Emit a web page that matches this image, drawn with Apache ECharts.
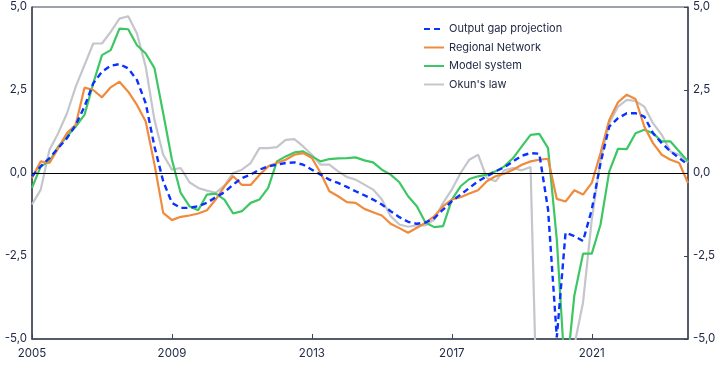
<!DOCTYPE html>
<html>
<head>
<meta charset="utf-8">
<script src="https://cdn.jsdelivr.net/npm/echarts@6/dist/echarts.min.js"></script>
<style>
html,body{margin:0;padding:0;background:#fff;}
#chart{width:722px;height:366px;}
</style>
</head>
<body>
<div id="chart"></div>
<script>
// Quarterly categories 2005Q1 .. 2023Q4
const years = [2005,2006,2007,2008,2009,2010,2011,2012,2013,2014,2015,2016,2017,2018,2019,2020,2021,2022,2023];
const quarters = [];
years.forEach(y => { for (let q = 1; q <= 4; q++) quarters.push(y + 'Q' + q); });

const seriesNames = ['Output gap projection', 'Regional Network', 'Model system', "Okun's law"];

const outputGap = [
  -0.1, 0.2, 0.45, 0.75, 1.05, 1.45, 2.0, 2.7, 3.05, 3.23, 3.28, 3.15, 2.8, 2.1, 0.8, -0.25,
  -0.9, -1.05, -1.05, -1.0, -0.9, -0.73, -0.58, -0.35, -0.15, -0.05, 0.1, 0.2, 0.25, 0.3, 0.32, 0.25,
  0.1, -0.05, -0.2, -0.3, -0.42, -0.55, -0.67, -0.8, -0.95, -1.15, -1.33, -1.47, -1.53, -1.49, -1.36, -1.1,
  -0.85, -0.65, -0.45, -0.25, -0.1, 0.05, 0.17, 0.35, 0.52, 0.6, 0.58, -1.1, -4.95, -1.8, -1.9, -2.05,
  -1.1, 0.3, 1.4, 1.65, 1.8, 1.8, 1.7, 1.2, 0.9, 0.65, 0.45, 0.25
];
const regionalNetwork = [
  -0.15, 0.35, 0.3, 0.75, 1.2, 1.45, 2.57, 2.5, 2.28, 2.58, 2.75, 2.45, 2.05, 1.55, 0.26, -1.2,
  -1.42, -1.32, -1.28, -1.22, -1.12, -0.8, -0.4, -0.1, -0.36, -0.36, -0.06, 0.2, 0.3, 0.4, 0.55, 0.6,
  0.45, 0.0, -0.55, -0.7, -0.88, -0.9, -1.08, -1.18, -1.28, -1.53, -1.66, -1.8, -1.65, -1.5, -1.3, -1.0,
  -0.8, -0.73, -0.62, -0.52, -0.25, -0.1, -0.02, 0.1, 0.25, 0.35, 0.4, 0.43, -0.78, -0.86, -0.52, -0.65,
  -0.3, 0.6, 1.6, 2.13, 2.36, 2.23, 1.4, 0.9, 0.55, 0.4, 0.3, -0.3
];
const modelSystem = [
  -0.45, 0.2, 0.35, 0.8, 1.1, 1.4, 1.75, 2.7, 3.55, 3.7, 4.35, 4.33, 3.85, 3.6, 3.16, 1.8,
  0.4, -0.6, -1.0, -1.12, -0.65, -0.62, -0.8, -1.22, -1.15, -0.9, -0.8, -0.45, 0.35, 0.5, 0.62, 0.65,
  0.5, 0.35, 0.42, 0.44, 0.45, 0.47, 0.38, 0.32, 0.1, -0.05, -0.28, -0.7, -1.0, -1.5, -1.63, -1.6,
  -0.8, -0.4, -0.18, -0.1, -0.05, 0.05, 0.2, 0.45, 0.8, 1.15, 1.18, 0.75, -2.0, -6.3, -3.7, -2.43,
  -2.43, -1.55, 0.05, 0.73, 0.72, 1.2, 1.3, 1.2, 0.95, 0.95, 0.65, 0.35
];
const okunsLaw = [
  -0.95, -0.5, 0.7, 1.2, 1.8, 2.6, 3.25, 3.9, 3.9, 4.25, 4.65, 4.72, 4.2, 3.2, 1.6, 0.55,
  0.1, 0.15, -0.28, -0.45, -0.53, -0.6, -0.38, 0.0, 0.1, 0.3, 0.75, 0.75, 0.78, 1.0, 1.02, 0.8,
  0.55, 0.25, 0.25, 0.05, -0.12, -0.2, -0.35, -0.5, -0.8, -1.3, -1.55, -1.62, -1.58, -1.58, -1.4, -0.9,
  -0.5, 0.0, 0.4, 0.55, -0.15, -0.25, 0.08, 0.15, 0.08, 0.18, -10, -10, -10, -8, -5.2, -3.9,
  -1.4, 0.4, 1.5, 2.0, 2.2, 2.17, 2.0, 1.5, 1.15, 0.65, 0.55, 0.32
];

const yTicks = [-5, -2.5, 0, 2.5, 5];

const textColor = '#222a45';
const axisColor = '#3d4457';
const fontFamily = 'Inter, "Noto Sans", sans-serif';
const fmtY = v => v.toFixed(1).replace('.', ',');

const chart = echarts.init(document.getElementById('chart'), null, {renderer: 'canvas'});

const yAxisBase = {
  type: 'value',
  min: yTicks[0],
  max: yTicks[yTicks.length - 1],
  interval: 2.5,
  splitLine: {show: false},
  axisLine: {show: true, lineStyle: {color: axisColor, width: 1.5}},
  axisLabel: {color: textColor, fontSize: 11.5, fontFamily: fontFamily, formatter: fmtY, margin: 5}
};

chart.setOption({
  animation: false,
  backgroundColor: '#ffffff',
  grid: {left: 32, right: 34, top: 7, bottom: 27, show: true, borderColor: axisColor, borderWidth: 1},
  legend: {
    orient: 'vertical',
    left: 418,
    top: 17,
    itemWidth: 20,
    itemHeight: 10,
    itemGap: 4.5,
    data: seriesNames,
    itemStyle: {opacity: 0},
    textStyle: {color: textColor, fontSize: 11, fontFamily: fontFamily, lineHeight: 14}
  },
  xAxis: {
    type: 'category',
    data: quarters,
    boundaryGap: false,
    axisLine: {show: true, onZero: false, lineStyle: {color: axisColor, width: 1.5}},
    axisTick: {show: true, inside: true, length: 5, interval: (i) => i % 16 === 0, lineStyle: {color: axisColor}},
    axisLabel: {
      color: textColor, fontSize: 11.5, fontFamily: fontFamily, margin: 9,
      interval: (i) => i % 16 === 0,
      formatter: v => v.slice(0, 4)
    },
    splitLine: {show: false}
  },
  yAxis: [
    Object.assign({}, yAxisBase, {position: 'left', axisTick: {show: false}}),
    Object.assign({}, yAxisBase, {position: 'right', axisTick: {show: true, inside: true, length: 4, lineStyle: {color: axisColor}}})
  ],
  series: [
    {
      name: "Okun's law", type: 'line', data: okunsLaw, symbol: 'none', clip: true, z: 2,
      lineStyle: {color: '#c4c6cc', width: 2.2}, itemStyle: {color: '#c4c6cc'}
    },
    {
      name: 'Model system', type: 'line', data: modelSystem, symbol: 'none', clip: true, z: 3,
      lineStyle: {color: '#3dc763', width: 2.2}, itemStyle: {color: '#3dc763'}
    },
    {
      name: 'Regional Network', type: 'line', data: regionalNetwork, symbol: 'none', clip: true, z: 4,
      lineStyle: {color: '#f08a3c', width: 2.2}, itemStyle: {color: '#f08a3c'}
    },
    {
      name: 'Output gap projection', type: 'line', data: outputGap, symbol: 'none', clip: true, z: 5,
      lineStyle: {color: '#0a32ff', width: 2.4, type: [6, 4]}, itemStyle: {color: '#0a32ff'},
      markLine: {
        silent: true, symbol: 'none', label: {show: false}, z: 6,
        lineStyle: {color: '#000000', width: 1, type: 'solid'},
        data: [{yAxis: 0}]
      }
    }
  ]
});
</script>
</body>
</html>
